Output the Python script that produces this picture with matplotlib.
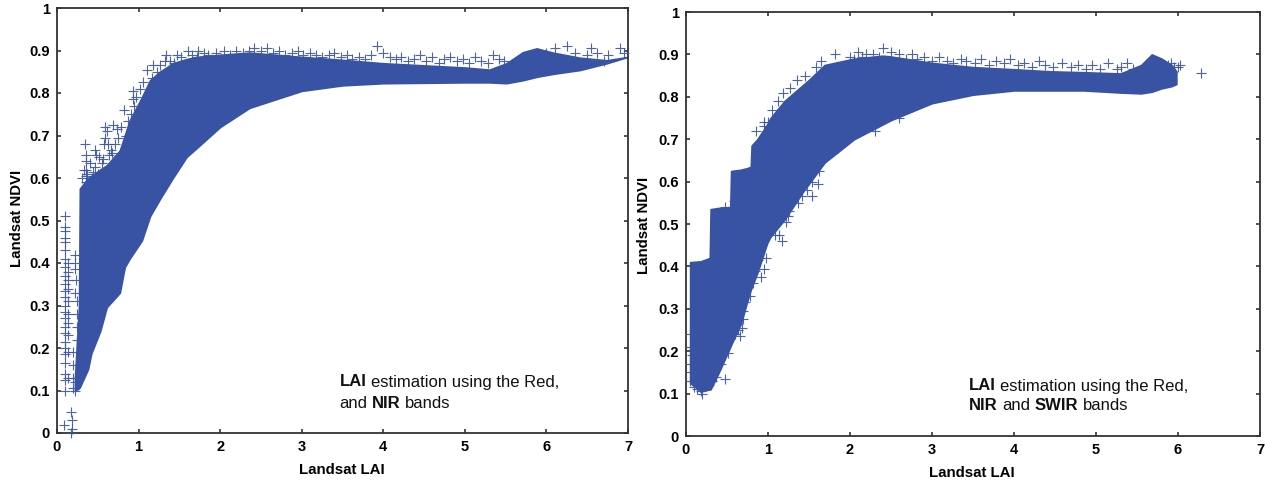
#!/usr/bin/env python3
"""LAI vs NDVI scatter panels, Red/NIR and Red/NIR/SWIR estimates."""
import matplotlib
matplotlib.use("Agg")
import matplotlib.pyplot as plt

BLUE = "#3953a4"
W, H = 1265, 487

# filled body of each cloud (LAI, lower NDVI, upper NDVI)
left_lai = [0.22, 0.27, 0.28, 0.38, 0.42, 0.53, 0.61, 0.77, 0.83, 0.89, 1.04, 1.14, 1.26, 1.34, 1.42, 1.59, 1.71, 2.0,
            2.36, 3.0, 3.5, 4.0, 5.0, 5.3, 5.51, 5.71, 5.88, 6.08, 6.41, 6.74, 7.0]
left_low = [0.10, 0.105, 0.108, 0.15, 0.187, 0.24, 0.296, 0.33, 0.39, 0.41, 0.453, 0.51, 0.55, 0.575, 0.60, 0.65, 0.67, 0.72,
            0.765, 0.805, 0.818, 0.823, 0.825, 0.825, 0.823, 0.83, 0.838, 0.845, 0.854, 0.87, 0.885]
left_high = [0.13, 0.30, 0.575, 0.60, 0.605, 0.62, 0.63, 0.665, 0.70, 0.735, 0.79, 0.83, 0.85, 0.86, 0.87, 0.88, 0.885, 0.89,
             0.895, 0.885, 0.878, 0.87, 0.86, 0.855, 0.87, 0.896, 0.905, 0.895, 0.883, 0.877, 0.885]

right_lai = [0.05, 0.18, 0.29, 0.30, 0.40, 0.54, 0.55, 0.67, 0.75, 0.79, 0.80, 0.87, 0.99, 1.03, 1.2, 1.44, 1.5, 1.69, 2.05,
             2.4, 2.5, 3.0, 3.5, 4.0, 4.45, 4.85, 5.3, 5.55, 5.68, 5.8, 5.92, 5.98]
right_low = [0.125, 0.105, 0.11, 0.11, 0.15, 0.21, 0.215, 0.265, 0.32, 0.345, 0.35, 0.385, 0.455, 0.47, 0.51, 0.58, 0.595, 0.645, 0.70,
             0.735, 0.745, 0.785, 0.805, 0.815, 0.815, 0.815, 0.81, 0.808, 0.812, 0.82, 0.825, 0.83]
right_high = [0.41, 0.412, 0.42, 0.535, 0.538, 0.54, 0.625, 0.628, 0.632, 0.635, 0.685, 0.70, 0.735, 0.75, 0.79, 0.83, 0.84, 0.875, 0.89,
              0.897, 0.895, 0.88, 0.87, 0.865, 0.86, 0.858, 0.855, 0.875, 0.90, 0.89, 0.875, 0.86]

# stray crosses around the bodies
left_x = [0.1, 0.1, 0.1, 0.1, 0.1, 0.1, 0.1, 0.1, 0.1, 0.1, 0.1, 0.1, 0.1, 0.1, 0.1, 0.1, 0.1, 0.1, 0.1, 0.1, 0.1, 0.1,
          0.1, 0.1, 0.13, 0.13, 0.13, 0.13, 0.13, 0.13, 0.13, 0.13, 0.13, 0.13,
          0.17, 0.18, 0.09, 0.18, 0.17,
          0.22, 0.22, 0.22, 0.23, 0.22, 0.24, 0.24, 0.24, 0.24, 0.2, 0.2, 0.2, 0.22, 0.22, 0.2,
          0.34, 0.35, 0.35, 0.35, 0.35, 0.35, 0.34, 0.47, 0.48, 0.47, 0.43, 0.49, 0.59, 0.61, 0.59, 0.62, 0.69, 0.73, 0.71,
          0.66, 0.55, 0.5, 0.4, 0.33, 0.33, 0.33, 0.85, 0.91, 0.93, 0.93, 0.95, 1.02, 1.0, 1.1, 1.18, 1.17, 1.26, 1.34, 1.33, 1.47, 1.44,
          1.6, 1.73, 1.72, 6.0, 6.1, 6.25, 6.35, 6.5, 6.55, 6.62, 6.75, 6.9, 6.95, 6.45, 6.7,
          0.31, 0.33, 0.37, 0.41, 0.44, 0.52, 0.56, 0.58, 0.64, 0.67, 0.75, 0.79, 0.82, 0.87, 0.97, 1.06, 1.22, 1.38, 1.52, 1.65, 1.8]
left_y = [0.51, 0.485, 0.475, 0.46, 0.45, 0.43, 0.41, 0.39, 0.37, 0.35, 0.335, 0.32, 0.30, 0.285, 0.27, 0.25, 0.235, 0.215, 0.20, 0.185, 0.165, 0.14,
          0.125, 0.10, 0.40, 0.38, 0.36, 0.34, 0.31, 0.28, 0.26, 0.23, 0.19, 0.13,
          0.05, 0.03, 0.02, 0.01, 0.0,
          0.42, 0.40, 0.385, 0.36, 0.33, 0.31, 0.28, 0.25, 0.22, 0.19, 0.16, 0.13, 0.12, 0.10, 0.105,
          0.68, 0.655, 0.64, 0.62, 0.605, 0.59, 0.575, 0.667, 0.655, 0.625, 0.60, 0.59, 0.72, 0.71, 0.695, 0.68, 0.725, 0.715, 0.68,
          0.665, 0.635, 0.61, 0.41, 0.40, 0.385, 0.37, 0.70, 0.75, 0.785, 0.805, 0.77, 0.81, 0.73, 0.855, 0.865, 0.835, 0.865, 0.89, 0.875, 0.89, 0.87,
          0.90, 0.90, 0.885, 0.895, 0.905, 0.91, 0.895, 0.89, 0.905, 0.895, 0.89, 0.905, 0.895, 0.87, 0.875,
          0.60, 0.62, 0.61, 0.635, 0.615, 0.65, 0.645, 0.68, 0.655, 0.66, 0.695, 0.72, 0.76, 0.735, 0.79, 0.825, 0.85, 0.875, 0.885, 0.89, 0.895]

# crosses that fringe the top of the left cloud
left_top_x = [1.85, 1.95, 2.05, 2.12, 2.2, 2.28, 2.35, 2.42, 2.5, 2.58, 2.65, 2.72, 2.8, 2.88, 2.95, 3.02, 3.1, 3.18,
              3.25, 3.33, 3.4, 3.48, 3.55, 3.62, 3.7, 3.78, 3.85, 3.92, 4.0, 4.08, 4.15, 4.22, 4.3, 4.38, 4.45, 4.52,
              4.6, 4.68, 4.75, 4.82, 4.9, 4.98, 5.05, 5.12, 5.2, 5.28, 5.35, 5.42, 5.48]
left_top_y = [0.89, 0.895, 0.9, 0.89, 0.9, 0.895, 0.9, 0.905, 0.9, 0.905, 0.895, 0.9, 0.89, 0.895, 0.9, 0.89, 0.895, 0.89,
              0.885, 0.89, 0.895, 0.885, 0.89, 0.88, 0.885, 0.88, 0.89, 0.91, 0.895, 0.885, 0.88, 0.885, 0.875, 0.88, 0.89, 0.875,
              0.885, 0.87, 0.88, 0.885, 0.875, 0.88, 0.87, 0.885, 0.875, 0.87, 0.89, 0.88, 0.875]

right_x = [0.18, 0.2, 0.17, 0.23, 0.15, 0.25, 0.47, 0.05, 0.06, 0.05, 0.07, 0.06, 0.05,
           0.85, 0.95, 1.0, 0.38, 0.58, 0.48,
           0.72, 0.70, 0.70, 0.66, 0.68, 0.84, 0.88, 0.92, 0.95, 0.98, 1.08, 1.13, 1.17, 1.22, 1.24, 1.30, 1.42, 1.54, 1.61, 1.54,
           1.7, 1.75, 1.82, 2.0, 2.1, 2.2, 2.4, 2.5, 2.75, 2.9,
           5.88, 5.92, 5.95, 6.0, 6.03, 6.28, 1.55, 1.9, 2.2, 2.6,
           0.1, 0.13, 0.28, 0.32, 0.36, 0.43, 0.51, 0.6, 0.64, 0.78, 0.82, 1.26, 1.36, 1.48, 1.62, 1.85, 2.3,
           0.95, 1.05, 1.12, 1.18, 1.27, 1.35, 1.45, 1.58, 1.65]
right_y = [0.105, 0.10, 0.115, 0.12, 0.13, 0.14, 0.135, 0.13, 0.15, 0.17, 0.19, 0.21, 0.24,
           0.72, 0.73, 0.74, 0.43, 0.555, 0.54,
           0.315, 0.295, 0.275, 0.235, 0.255, 0.39, 0.415, 0.375, 0.395, 0.42, 0.475, 0.475, 0.46, 0.505, 0.52, 0.555, 0.565, 0.60, 0.595, 0.565,
           0.655, 0.85, 0.90, 0.895, 0.905, 0.90, 0.915, 0.905, 0.90, 0.895,
           0.875, 0.88, 0.87, 0.87, 0.875, 0.857, 0.64, 0.715, 0.735, 0.75,
           0.115, 0.11, 0.12, 0.13, 0.14, 0.17, 0.195, 0.24, 0.25, 0.33, 0.36, 0.53, 0.55, 0.58, 0.625, 0.68, 0.72,
           0.74, 0.77, 0.79, 0.81, 0.82, 0.84, 0.85, 0.87, 0.885]

# crosses that fringe the top of the right cloud
right_top_x = [2.05, 2.15, 2.28, 2.35, 2.6, 2.68, 2.82, 3.0, 3.08, 3.18, 3.25, 3.35, 3.42, 3.52, 3.6, 3.7, 3.78, 3.88,
               3.95, 4.05, 4.12, 4.22, 4.3, 4.38, 4.48, 4.58, 4.7, 4.78, 4.88, 4.95, 5.05, 5.15, 5.25, 5.3, 5.38, 5.45]
right_top_y = [0.89, 0.895, 0.9, 0.895, 0.9, 0.89, 0.89, 0.885, 0.895, 0.885, 0.88, 0.89, 0.885, 0.88, 0.89, 0.875, 0.885, 0.88,
               0.89, 0.875, 0.88, 0.87, 0.885, 0.875, 0.87, 0.88, 0.87, 0.875, 0.865, 0.875, 0.865, 0.88, 0.865, 0.87, 0.88, 0.865]

x_ticks = [0, 1, 2, 3, 4, 5, 6, 7]
y_ticks = [0, 0.1, 0.2, 0.3, 0.4, 0.5, 0.6, 0.7, 0.8, 0.9, 1]
y_labels = ["0", "0.1", "0.2", "0.3", "0.4", "0.5", "0.6", "0.7", "0.8", "0.9", "1"]

plt.rcParams["font.family"] = "Liberation Sans"
plt.rcParams["font.weight"] = "bold"


def note_line(fig, x, y, runs):
    # runs of (text, bold) laid end to end, y is the line centre in pixels
    rend = fig.canvas.get_renderer()
    for txt, bold in runs:
        t = fig.text(x / W, 1 - y / H, txt, fontsize=12, color="#111111",
                     fontweight="bold" if bold else "normal", va="center")
        x = t.get_window_extent(rend).x1 + 4.5


def panel(fig, box, lai, low, high, xs, ys, xs2, ys2, xlabel_xy, ylabel_xy):
    # box is left, top, right, bottom in picture pixels
    x0, y0, x1, y1 = box
    ax = fig.add_axes([x0 / W, 1 - y1 / H, (x1 - x0) / W, (y1 - y0) / H])
    ax.fill_between(lai, low, high, color=BLUE, lw=1.2, zorder=2)
    ax.plot(xs, ys, "+", color=BLUE, ms=7.5, mew=0.8, alpha=0.9, clip_on=False, zorder=3)
    ax.plot(xs2, ys2, "+", color=BLUE, ms=7.5, mew=0.8, alpha=0.9, zorder=3)
    ax.set_xlim(0, 7)
    ax.set_ylim(0, 1)
    ax.set_xticks(x_ticks)
    ax.set_yticks(y_ticks, y_labels)
    ax.tick_params(direction="in", length=3, width=1.1, top=True, right=True, labelsize=10.5, color="#222222", pad=5)
    for s in ax.spines.values():
        s.set_linewidth(1.3)
        s.set_color("#333333")
    fig.text(xlabel_xy[0] / W, 1 - xlabel_xy[1] / H, "Landsat LAI", fontsize=10.8, ha="center", va="center")
    fig.text(ylabel_xy[0] / W, 1 - ylabel_xy[1] / H, "Landsat NDVI", fontsize=10.8, rotation=90, ha="center", va="center")
    return ax


fig = plt.figure(figsize=(W / 100, H / 100), dpi=100)
panel(fig, (57, 8, 628, 433), left_lai, left_low, left_high, left_x, left_y, left_top_x, left_top_y,
      (342, 470), (17, 218))
panel(fig, (686, 12, 1260, 436), right_lai, right_low, right_high, right_x, right_y, right_top_x, right_top_y,
      (972, 473), (644, 225))
note_line(fig, 340, 382, [("LAI", True), ("estimation using the Red,", False)])
note_line(fig, 339, 403, [("and", False), ("NIR", True), ("bands", False)])
note_line(fig, 969, 386, [("LAI", True), ("estimation using the Red,", False)])
note_line(fig, 969, 406, [("NIR", True), ("and", False), ("SWIR", True), ("bands", False)])
fig.savefig("out.png", dpi=100)
